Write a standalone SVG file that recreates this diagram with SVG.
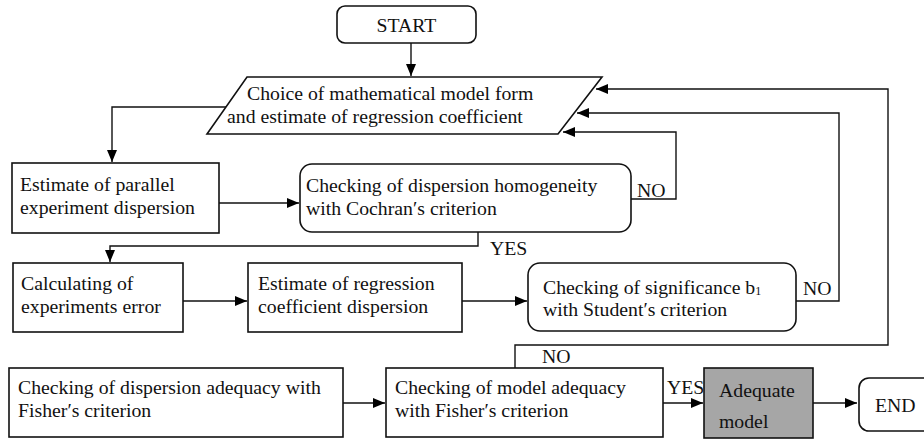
<svg xmlns="http://www.w3.org/2000/svg" width="924" height="441" viewBox="0 0 924 441" font-family="'Liberation Serif', 'Times New Roman', Times, serif">
<defs>
<marker id="ah" viewBox="0 0 12 10" refX="12" refY="5" markerWidth="12" markerHeight="10" markerUnits="userSpaceOnUse" orient="auto">
<path d="M0,0 L12,5 L0,10 z" fill="#000"/>
</marker>
</defs>
<style>
text{font-family:'Liberation Serif','Times New Roman',Times,serif;font-size:19.75px;fill:#111}
.box{fill:#fff;stroke:#111;stroke-width:1.6}
.gray{fill:#a6a6a6;stroke:#111;stroke-width:1.6}
.a{fill:none;stroke:#111;stroke-width:1.4;marker-end:url(#ah)}
</style>
<rect width="924" height="441" fill="#fff"/>
<g id="connectors">
<path class="a" d="M411,43 V76"/>
<path class="a" d="M226,107 H112 V162"/>
<path class="a" d="M219,203 H299"/>
<path class="a" d="M631,199 H676 V132 H563"/>
<path class="a" d="M478,232 V246 H110 V262"/>
<path class="a" d="M183,301 H247"/>
<path class="a" d="M462,301 H527"/>
<path class="a" d="M796,301 H839 V113 H577"/>
<path class="a" d="M515,368 V345 H888 V89 H596"/>
<path class="a" d="M343,403 H385"/>
<path class="a" d="M663,403 H703"/>
<path class="a" d="M813,403 H857"/>
<text x="637" y="197">NO</text>
<text x="490" y="255">YES</text>
<text x="803" y="295">NO</text>
<text x="542" y="363">NO</text>
<text x="667" y="394">YES</text>
</g>
<g id="start">
<rect class="box" x="337" y="6" width="139" height="37" rx="8"/>
<text x="406.5" y="32" text-anchor="middle">START</text>
</g>
<g id="choice">
<polygon class="box" points="247,77 602,77 558,134 207,134"/>
<text x="247" y="100">Choice of mathematical model form</text>
<text x="227" y="123">and estimate of regression coefficient</text>
</g>
<g id="parallel">
<rect class="box" x="12" y="163" width="207" height="70"/>
<text x="20" y="191">Estimate of parallel</text>
<text x="20" y="214">experiment dispersion</text>
</g>
<g id="cochran">
<rect class="box" x="300" y="164" width="331" height="68" rx="12"/>
<text x="306" y="192">Checking of dispersion homogeneity</text>
<text x="306" y="215">with Cochran′s criterion</text>
</g>
<g id="error">
<rect class="box" x="13" y="263" width="170" height="69"/>
<text x="21" y="290">Calculating of</text>
<text x="21" y="313">experiments error</text>
</g>
<g id="regdisp">
<rect class="box" x="248" y="263" width="214" height="69"/>
<text x="258" y="290">Estimate of regression</text>
<text x="258" y="313">coefficient dispersion</text>
</g>
<g id="student">
<rect class="box" x="528" y="263" width="268" height="68" rx="12"/>
<text x="543" y="294">Checking of significance b<tspan font-size="12" dy="1">1</tspan></text>
<text x="543" y="316"> with Student′s criterion</text>
</g>
<g id="dispadequacy">
<rect class="box" x="9" y="368" width="334" height="69"/>
<text x="18" y="394">Checking of dispersion adequacy with</text>
<text x="18" y="417">Fisher′s criterion</text>
</g>
<g id="modeladequacy">
<rect class="box" x="386" y="368" width="277" height="69"/>
<text x="395" y="394">Checking of model adequacy</text>
<text x="395" y="417">with Fisher′s criterion</text>
</g>
<g id="adequate">
<rect class="gray" x="704" y="368" width="109" height="70"/>
<text x="719" y="397">Adequate</text>
<text x="719" y="428">model</text>
</g>
<g id="end">
<rect class="box" x="859" y="378" width="80" height="53" rx="10"/>
<text x="875" y="412">END</text>
</g>
</svg>
